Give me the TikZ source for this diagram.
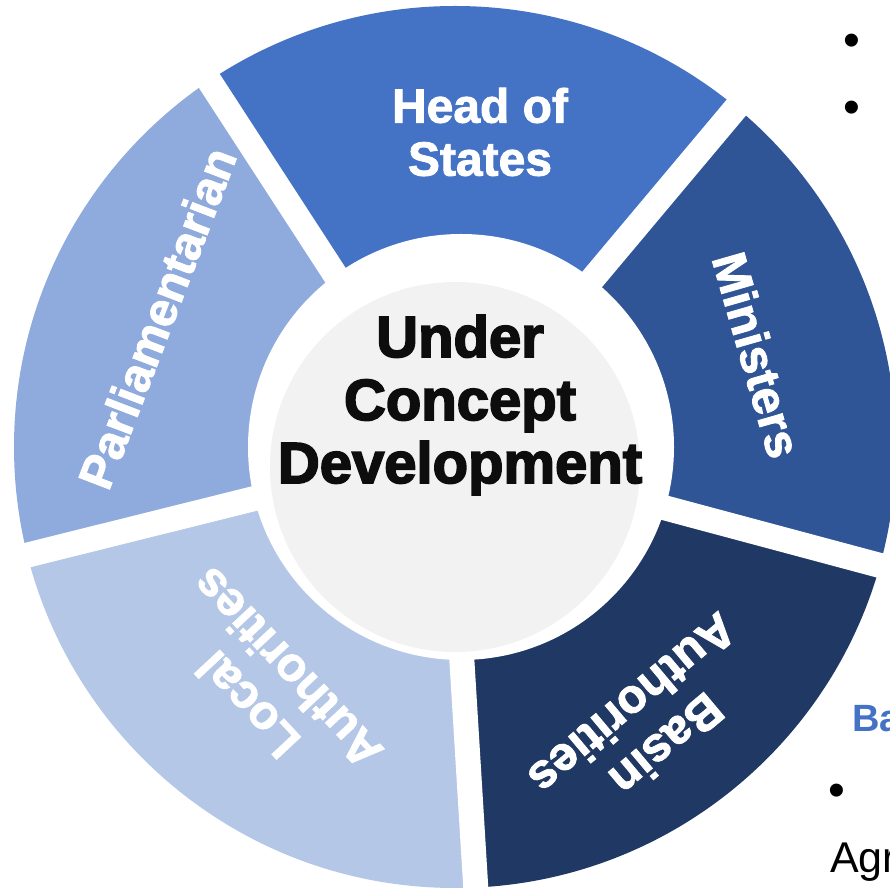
\documentclass[tikz,border=0pt]{standalone}
\usepackage{fontspec}
\setmainfont{Liberation Sans}
\newfontfamily\heavyfont[FakeBold=3]{Liberation Sans Bold}
\newfontfamily\segfont[FakeBold=1.8]{Liberation Sans Bold}
\usepackage{tikz}
\usetikzlibrary{positioning}
\definecolor{headblue}{RGB}{68,114,196}
\definecolor{minblue}{RGB}{47,85,151}
\definecolor{basinblue}{RGB}{32,56,100}
\definecolor{localblue}{RGB}{180,199,231}
\definecolor{parlblue}{RGB}{143,170,220}
\definecolor{coregray}{RGB}{242,242,242}
\tikzstyle{gap} = [white,line width=25pt]
\tikzstyle{seglabel} = [white,align=center,inner sep=0pt,font=\fontsize{48}{53}\selectfont\segfont]
\tikzstyle{corelabel} = [black!95,align=center,inner sep=0pt,font=\fontsize{58}{63}\selectfont\heavyfont]
\tikzstyle{slide} = [inner sep=0pt,anchor=base west]
\tikzstyle{dot} = [inner sep=0pt,anchor=base,font=\fontsize{48}{50}\selectfont]

\begin{document}
\begin{tikzpicture}[x=1pt,y=1pt]
	\useasboundingbox (0,0) rectangle (890,891);
	\clip (0,0) rectangle (890,891);
	\coordinate (C) at (449,441);

	%segments
	\begin{scope}
		\clip (455,444) circle (441);
		\fill[headblue] (C) -- +(50:700) -- +(86.5:700) -- +(123:700) -- cycle;
		\fill[parlblue] (C) -- +(123:700) -- +(158.5:700) -- +(194:700) -- cycle;
		\fill[localblue] (C) -- +(194:700) -- +(233.75:700) -- +(273.5:700) -- cycle;
		\fill[basinblue] (C) -- +(273.5:700) -- +(309.25:700) -- +(345:700) -- cycle;
		\fill[minblue] (C) -- +(345:700) -- +(377.5:700) -- +(410:700) -- cycle;
	\end{scope}
	\foreach \a in {50,123,194,273.5,345}
		\draw[gap] (C) -- +(\a:700);

	%core
	\fill[white] (461,444) circle (213);
	\node (core) [circle,fill=coregray,minimum size=370pt,inner sep=0pt] at (455,424) {};
	\node (corelbl) [corelabel] at (460,486) {Under\\Concept\\Development};

	%labels
	\node (head) [seglabel] at (480,759) {Head of\\States};
	\node (min) [seglabel,rotate=-74] at (757,536) {Ministers};
	\node (parl) [seglabel,rotate=69] at (157,573) {Parliamentarian};
	\node (local) [seglabel,rotate=133] at (267,204) {Local\\Authorities};
	\node (basin) [seglabel,rotate=220] at (650,166) {Basin\\Authorities};

	%slide text
	\node (dot1) [dot] at (852,834) {•};
	\node (dot2) [dot] at (852,767) {•};
	\node (ba) [slide,text=headblue,font=\fontsize{38}{42}\selectfont\bfseries] at (852,159) {Ba};
	\node (dot3) [dot] at (837,84) {•};
	\node (agr) [slide,font=\fontsize{43}{48}\selectfont] at (830,18) {Agr};
\end{tikzpicture}
\end{document}
